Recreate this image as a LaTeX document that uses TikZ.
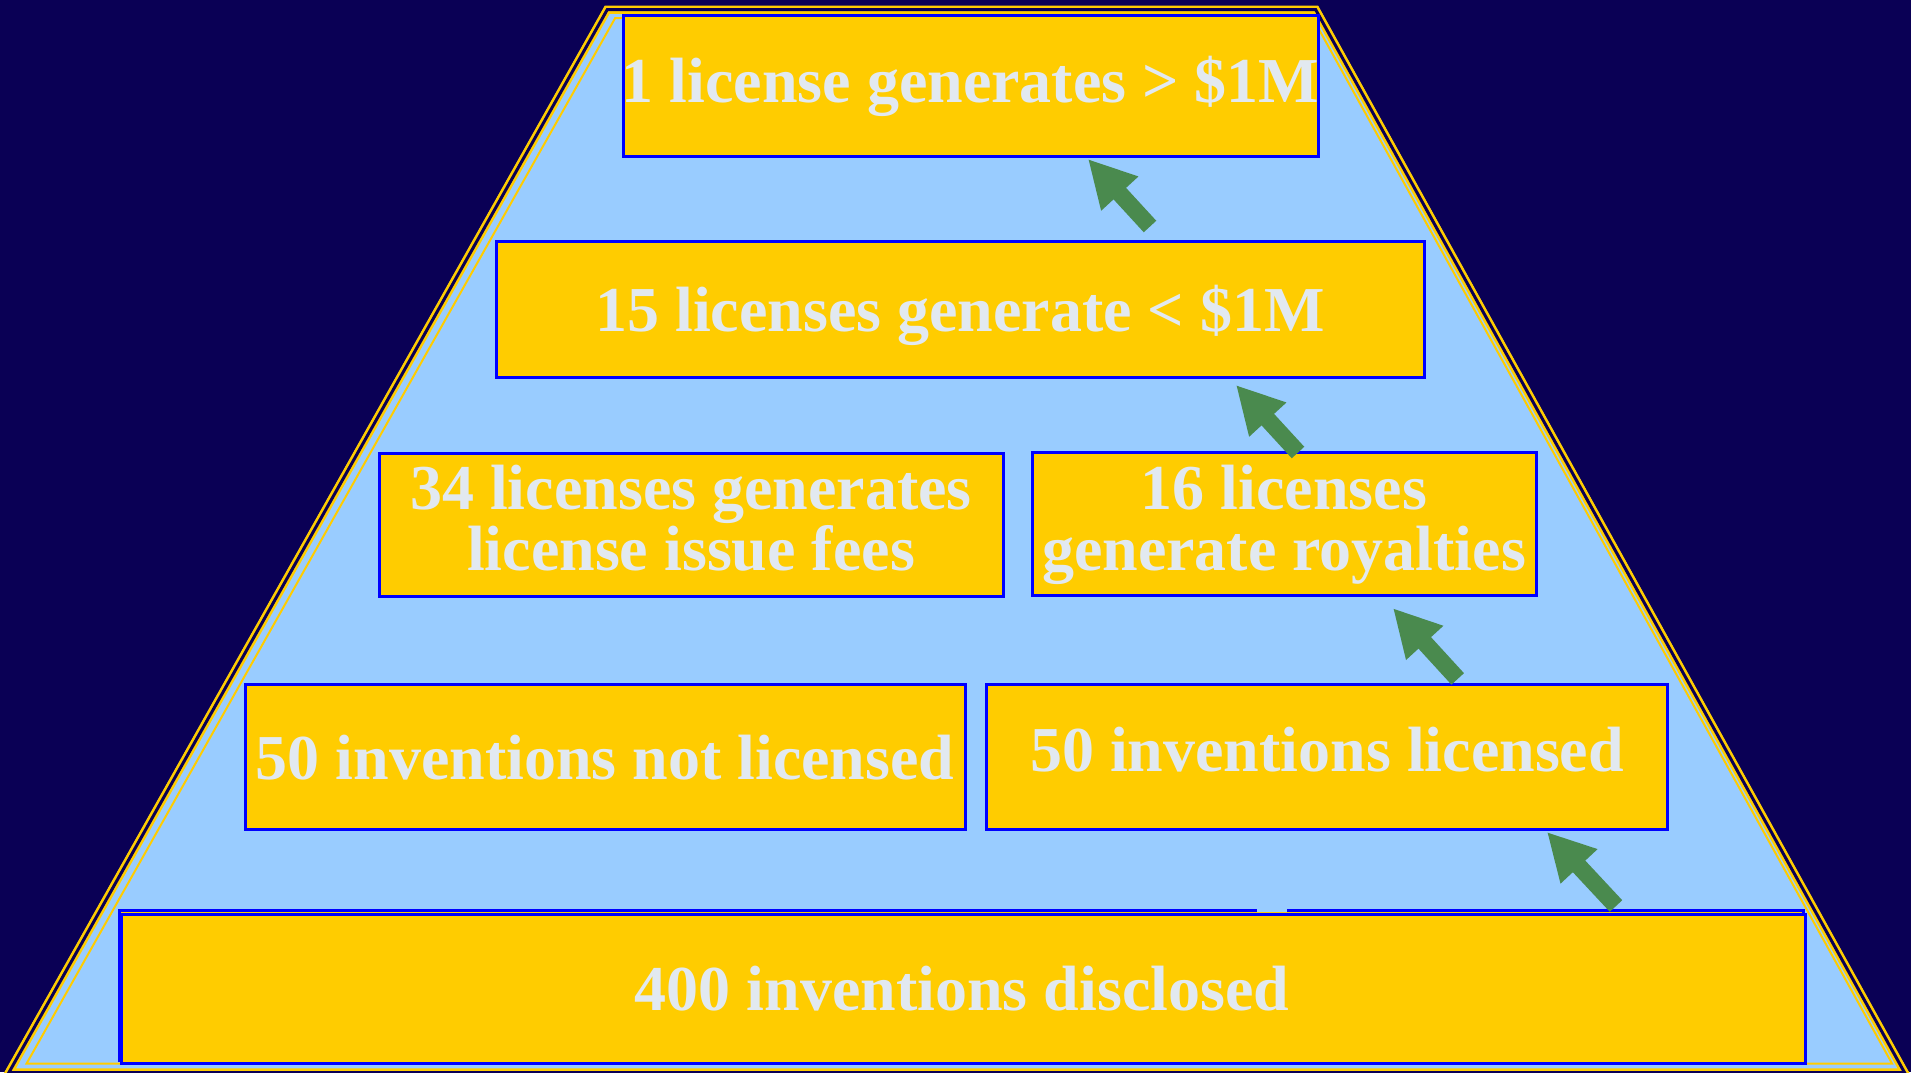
\documentclass[tikz,border=0pt]{standalone}
\usepackage{fontspec}
\setmainfont{Liberation Serif}
\usetikzlibrary{arrows.meta}
\definecolor{navybg}{RGB}{10,0,85}
\definecolor{skyfill}{RGB}{153,204,255}
\definecolor{gold}{RGB}{255,204,0}
\definecolor{boxblue}{RGB}{0,0,255}
\definecolor{txtc}{RGB}{226,233,240}
\definecolor{arrowgreen}{RGB}{74,138,78}
\begin{document}
\begin{tikzpicture}[x=1pt,y=-1pt,
  box/.style={draw=boxblue, fill=gold, line width=3pt, rectangle, inner sep=0pt},
  txt/.style={font=\fontsize{64}{64}\selectfont\bfseries, text=txtc, inner sep=0pt, anchor=base},
  uparrow/.style={draw=arrowgreen, line width=17pt, -{Triangle[width=47pt,length=47pt]}}
]
\useasboundingbox (0,0) rectangle (1911,1072);
\fill[navybg] (0,0) rectangle (1911,1072);
% pyramid
\fill[skyfill] (605,6) -- (1318,6) -- (1909,1073) -- (4.3,1073) -- cycle;
\draw[gold, line width=2.6pt, double=navybg, double distance=3pt, line join=miter]
  (607.2,9.7) -- (1315.7,9.7) -- (1904.5,1072.5) -- (8.9,1072.5) -- cycle;
\draw[gold, line width=2pt] (615.2,18) -- (1312.6,18) -- (1892,1063.5) -- (26.6,1063.5) -- cycle;
% bottom box (with the offset frame behind it)
\node[box, minimum width=1684pt, minimum height=150pt] (b5back) at (961,985) {};
\fill[skyfill] (1257,903) rectangle (1287,912.3);
\node[box, minimum width=1684pt, minimum height=149pt] (b5) at (963,988.5) {};
% other boxes
\node[box, minimum width=695pt, minimum height=141pt] (b1) at (970.5,85.5) {};
\node[box, minimum width=928pt, minimum height=136pt] (b2) at (960,309) {};
\node[box, minimum width=624pt, minimum height=143pt] (b3a) at (691,524.5) {};
\node[box, minimum width=504pt, minimum height=143pt] (b3b) at (1284,523.5) {};
\node[box, minimum width=720pt, minimum height=145pt] (b4a) at (605,756.5) {};
\node[box, minimum width=681pt, minimum height=145pt] (b4b) at (1326.5,756.5) {};
% texts
\node[txt] (t1) at (970.5,102) {1 license generates > \$1M};
\node[txt] (t2) at (960,331.7) {15 licenses generate < \$1M};
\node[txt] (t3a1) at (691,509) {34 licenses generates};
\node[txt] (t3a2) at (691,570) {license issue fees};
\node[txt] (t3b1) at (1284,509) {16 licenses};
\node[txt] (t3b2) at (1284,570) {generate royalties};
\node[txt] (t4a) at (605,779.3) {50 inventions not licensed};
\node[txt] (t4b) at (1327,771.7) {50 inventions licensed};
\node[txt] (t5) at (962,1010.7) {400 inventions disclosed};
% arrows
\coordinate (a1s) at (1150,226.5); \coordinate (a1e) at (1088,159);
\coordinate (a2s) at (1298,452.5); \coordinate (a2e) at (1236,385);
\coordinate (a3s) at (1457.7,678.9); \coordinate (a3e) at (1393,608.2);
\coordinate (a4s) at (1616,906); \coordinate (a4e) at (1547,832);
\draw[uparrow] (a1s) -- (a1e);
\draw[uparrow] (a2s) -- (a2e);
\draw[uparrow] (a3s) -- (a3e);
\draw[uparrow] (a4s) -- (a4e);
\end{tikzpicture}
\end{document}
